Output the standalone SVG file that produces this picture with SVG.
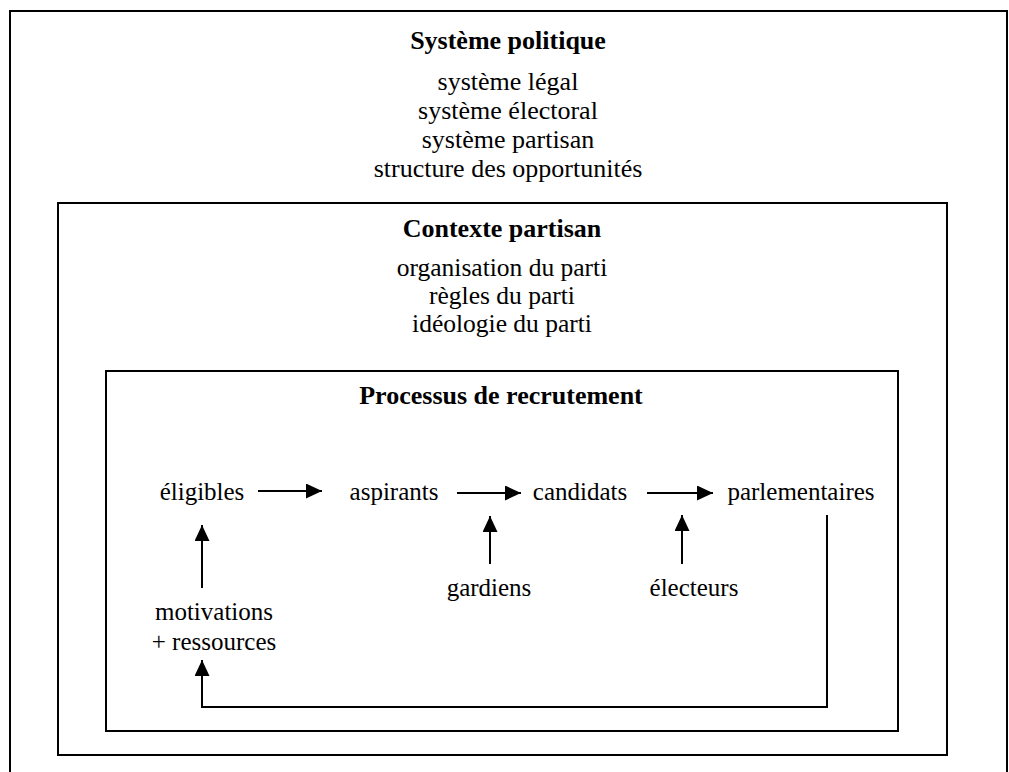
<svg xmlns="http://www.w3.org/2000/svg" width="1009" height="772" viewBox="0 0 1009 772">
<style>
.box{fill:none;stroke:#000;stroke-width:2}
.t{font-family:"Liberation Serif","Times New Roman",serif;fill:#000;text-anchor:middle}
.b{font-weight:bold;font-size:26px}
.l1{font-size:26px}
.l2{font-size:25.5px}
.n{font-size:25px}
.c{fill:none;stroke:#000;stroke-width:2}
</style>
<defs>
<marker id="ah" viewBox="0 0 16 15" refX="16" refY="7.5" markerWidth="16" markerHeight="15" markerUnits="userSpaceOnUse" orient="auto">
<path d="M0,0 L16,7.5 L0,15 Z" fill="#000"/>
</marker>
</defs>
<rect width="1009" height="772" fill="#fff"/>
<g id="systeme-politique">
<path class="box" d="M10,790 L10,11 L1007,11 L1007,790"/>
<text class="t b" x="508" y="49">Système politique</text>
<text class="t l1" x="508" y="90">système légal</text>
<text class="t l1" x="508" y="119">système électoral</text>
<text class="t l1" x="508" y="148">système partisan</text>
<text class="t l1" x="508" y="177">structure des opportunités</text>
</g>
<g id="contexte-partisan">
<rect class="box" x="58" y="203" width="889" height="552"/>
<text class="t b" x="502" y="237">Contexte partisan</text>
<text class="t l2" x="502" y="276">organisation du parti</text>
<text class="t l2" x="502" y="304">règles du parti</text>
<text class="t l2" x="502" y="332">idéologie du parti</text>
</g>
<g id="processus-recrutement">
<rect class="box" x="106" y="371" width="792" height="360"/>
<text class="t b" x="501" y="404">Processus de recrutement</text>
</g>
<g id="eligibles"><text class="t n" x="202" y="500">éligibles</text></g>
<g id="aspirants"><text class="t n" x="394" y="500">aspirants</text></g>
<g id="candidats"><text class="t n" x="580" y="500">candidats</text></g>
<g id="parlementaires"><text class="t n" x="801" y="500">parlementaires</text></g>
<g id="gardiens"><text class="t n" x="489" y="596">gardiens</text></g>
<g id="electeurs"><text class="t n" x="694" y="596">électeurs</text></g>
<g id="motivations"><text class="t n" x="214" y="620">motivations</text><text class="t n" x="214" y="650">+ ressources</text></g>
<g id="connectors">
<path class="c" d="M258,491 L322,491" marker-end="url(#ah)"/>
<path class="c" d="M457,493 L521,493" marker-end="url(#ah)"/>
<path class="c" d="M647,493 L713,493" marker-end="url(#ah)"/>
<path class="c" d="M202,588 L202,525" marker-end="url(#ah)"/>
<path class="c" d="M490,564 L490,516" marker-end="url(#ah)"/>
<path class="c" d="M682,564 L682,515" marker-end="url(#ah)"/>
<path class="c" d="M827,515 L827,707 L202,707 L202,660" marker-end="url(#ah)"/>
</g>
</svg>
